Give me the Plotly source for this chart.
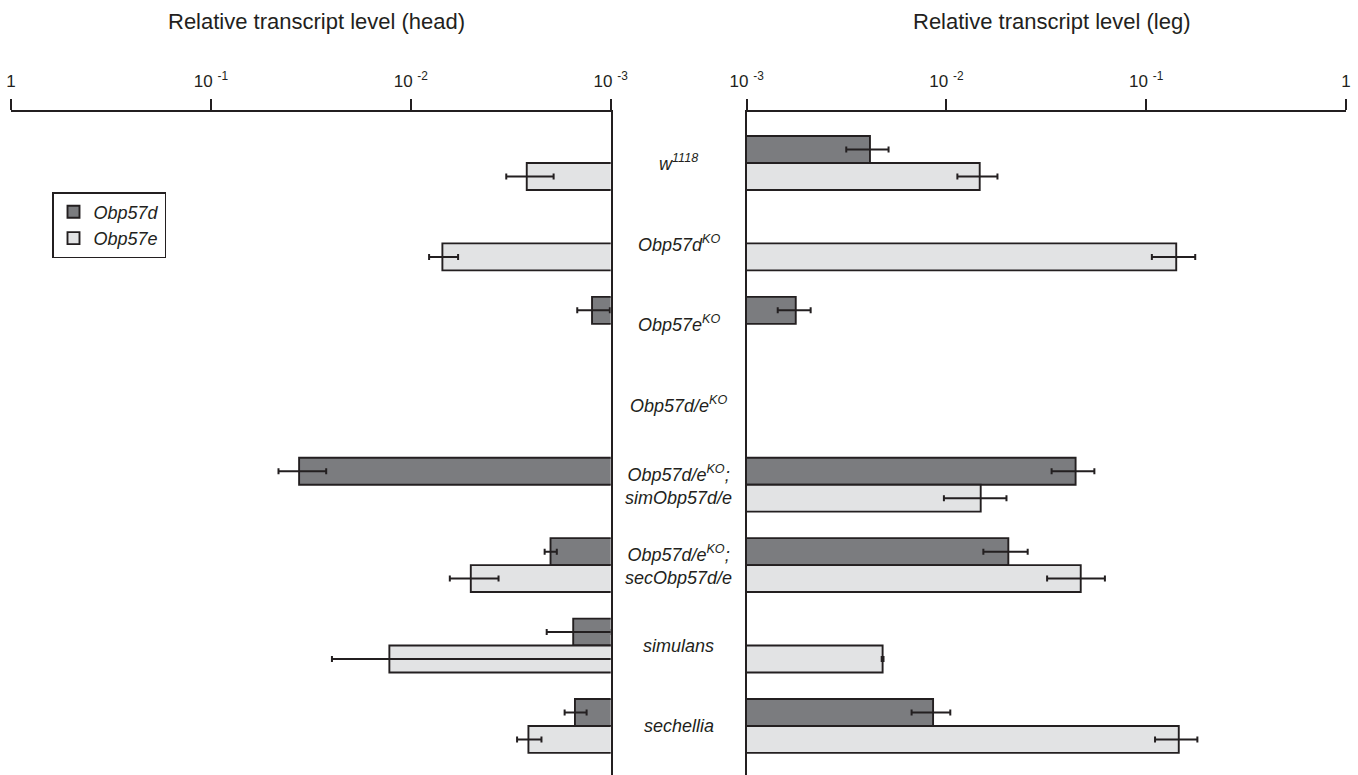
import plotly.graph_objects as go

# ---------------- data ----------------
categories = ["w1118", "Obp57dKO", "Obp57eKO", "Obp57d/eKO",
              "Obp57d/eKO;simObp57d/e", "Obp57d/eKO;secObp57d/e",
              "simulans", "sechellia"]
category_labels = ["w<sup>1118</sup>", "Obp57d<sup>KO</sup>", "Obp57e<sup>KO</sup>",
                   "Obp57d/e<sup>KO</sup>",
                   "Obp57d/e<sup>KO</sup>;<br>simObp57d/e",
                   "Obp57d/e<sup>KO</sup>;<br>secObp57d/e",
                   "simulans", "sechellia"]
series_names = ["Obp57d", "Obp57e"]

head_57d = [None, None, 0.00124, None, 0.0362, 0.00200, 0.00154, 0.00151]
head_57d_se = [None, None, 0.00023, None, 0.0097, 0.00014, 0.00055, 0.00019]
head_57e = [0.00263, 0.00695, None, None, None, 0.00501, 0.0128, 0.00258]
head_57e_se = [0.00070, 0.00115, None, None, None, 0.00137, 0.0120, 0.00036]

leg_57d = [0.00414, None, 0.00176, None, 0.0443, 0.0204, None, 0.00857]
leg_57d_se = [0.00099, None, 0.00033, None, 0.0107, 0.0051, None, 0.00188]
leg_57e = [0.01467, 0.1413, None, None, 0.01484, 0.0470, 0.00479, 0.1455]
leg_57e_se = [0.00333, 0.0346, None, None, 0.00513, 0.0151, 0.00005, 0.0348]

tick_vals = [1, 0.1, 0.01, 0.001]
tick_text = ["1", "10 <sup>-1</sup>", "10 <sup>-2</sup>", "10 <sup>-3</sup>"]

panel_titles = ["Relative transcript level (head)", "Relative transcript level (leg)"]

# ---------------- style ----------------
INK = "#231f20"
DARK = "#7b7c7f"
LIGHT = "#e2e3e4"
FONT = "Liberation Sans, Arial, Helvetica, sans-serif"

fig = go.Figure()


def add_bar(values, errors, name, color, xaxis, yaxis, showlegend):
    fig.add_trace(go.Bar(
        y=categories, x=values, orientation="h", name="<i>%s</i>" % name,
        marker=dict(color=color, line=dict(color=INK, width=1.9)),
        error_x=dict(type="data", array=errors, symmetric=True,
                     color=INK, thickness=2, width=3),
        xaxis=xaxis, yaxis=yaxis, showlegend=showlegend,
        legendgroup=name, hoverinfo="x+y",
    ))


add_bar(head_57d, head_57d_se, series_names[0], DARK, "x", "y", True)
add_bar(head_57e, head_57e_se, series_names[1], LIGHT, "x", "y", True)
add_bar(leg_57d, leg_57d_se, series_names[0], DARK, "x2", "y2", False)
add_bar(leg_57e, leg_57e_se, series_names[1], LIGHT, "x2", "y2", False)

W, H = 1358, 775
ML, MR, MT, MB = 11, 12, 112, 0
PW = W - ML - MR
PH = H - MT - MB


def px_x(p):
    return (p - ML) / PW


def px_y(p):
    return (H - MB - p) / PH


yrange = [7.61, -0.634]

xcommon = dict(type="log", side="top", showline=True, linecolor=INK, linewidth=2,
               ticks="outside", ticklen=11, tickwidth=2, tickcolor=INK,
               tickvals=tick_vals, ticktext=tick_text, showgrid=False,
               zeroline=False, tickfont=dict(family=FONT, size=17, color=INK),
               ticklabelstandoff=5, fixedrange=True, automargin=False)
ycommon = dict(type="category", categoryorder="array", categoryarray=categories,
               range=yrange, showline=True, linecolor=INK, linewidth=2,
               showticklabels=False, ticks="", showgrid=False, zeroline=False,
               fixedrange=True, automargin=False)

fig.update_layout(
    xaxis=dict(domain=[0, px_x(610.7)], range=[0, -3], anchor="y", **xcommon),
    xaxis2=dict(domain=[px_x(746.7), 1], range=[-3, 0], anchor="y2", **xcommon),
    yaxis=dict(domain=[0, 1], anchor="x", side="right", **ycommon),
    yaxis2=dict(domain=[0, 1], anchor="x2", side="left", **ycommon),
    barmode="group", bargap=0.33, bargroupgap=0,
    width=W, height=H,
    margin=dict(l=ML, r=MR, t=MT, b=MB, pad=0, autoexpand=False),
    paper_bgcolor="white", plot_bgcolor="white",
    font=dict(family=FONT, color=INK),
    legend=dict(x=px_x(52), y=px_y(192), xanchor="left", yanchor="top",
                bordercolor=INK, borderwidth=1.5, bgcolor="white",
                font=dict(family=FONT, size=18, color=INK),
                traceorder="normal", itemclick=False, itemdoubleclick=False),
)

# category labels in the middle gap
for cat, lab in zip(categories, category_labels):
    fig.add_annotation(x=px_x(678.7), xref="paper", y=cat, yref="y",
                       text="<i>%s</i>" % lab, showarrow=False,
                       font=dict(family=FONT, size=18, color=INK),
                       xanchor="center", yanchor="middle", align="center")

# panel titles
for title, cx in zip(panel_titles, [316.5, 1052]):
    fig.add_annotation(x=px_x(cx), xref="paper", y=px_y(21), yref="paper",
                       text=title, showarrow=False,
                       font=dict(family=FONT, size=22, color=INK),
                       xanchor="center", yanchor="middle")

fig.write_html("out.html", config={"displayModeBar": False},
               post_script="document.body.style.margin='0';document.body.style.overflow='hidden';")
